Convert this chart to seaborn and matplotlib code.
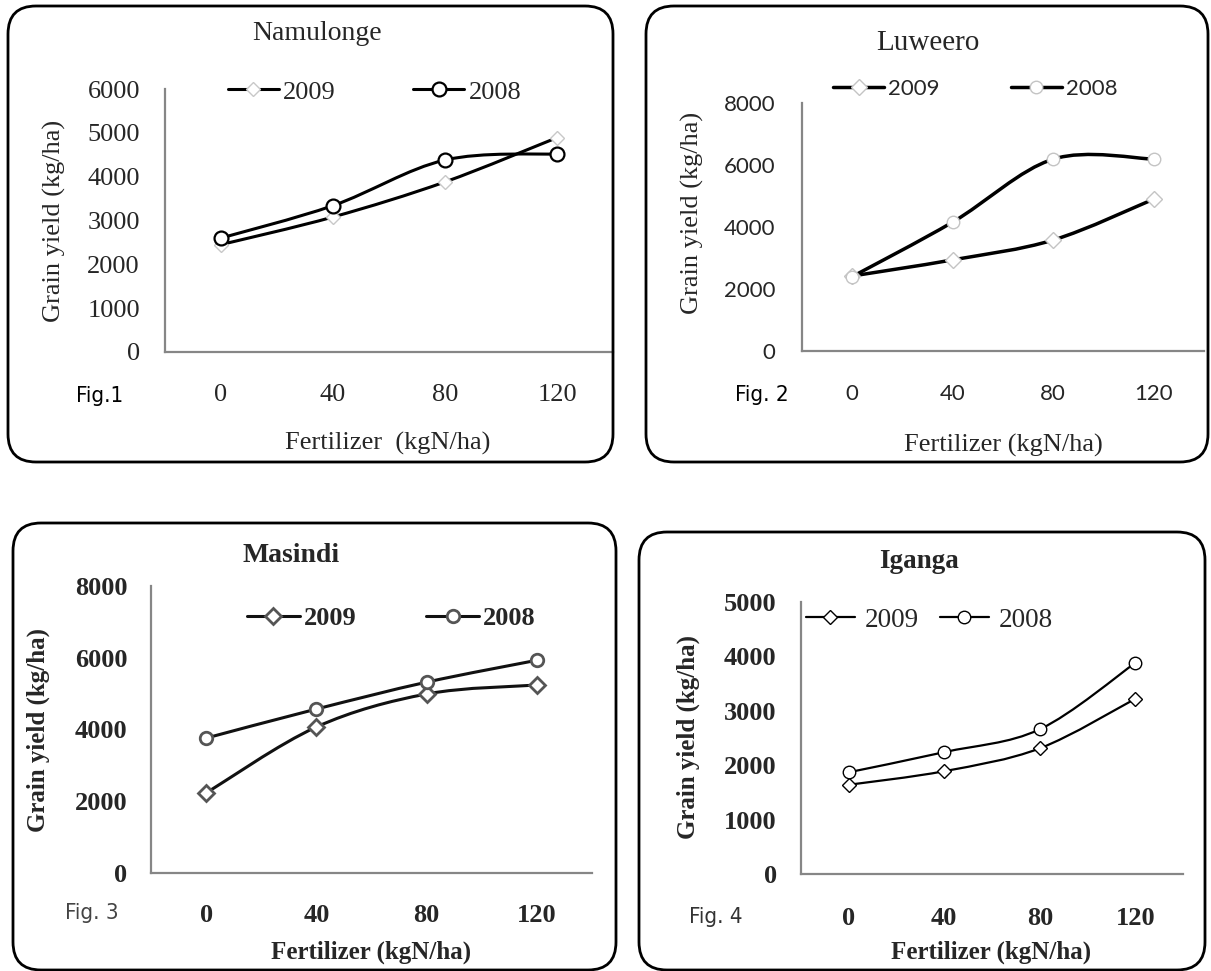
import numpy as np
import pandas as pd
import matplotlib
matplotlib.use("Agg")
import matplotlib.pyplot as plt
import seaborn as sns
from matplotlib.path import Path
from matplotlib.patches import PathPatch, FancyBboxPatch
from matplotlib.lines import Line2D

# data (grain yield, kg/ha)
doses = ["0", "40", "80", "120"]
years = ["2009", "2008"]
namulonge_2009 = [2450, 3080, 3880, 4890]
namulonge_2008 = [2600, 3340, 4380, 4520]
luweero_2009 = [2420, 2940, 3580, 4900]
luweero_2008 = [2400, 4160, 6190, 6190]
masindi_2009 = [2230, 4070, 4990, 5240]
masindi_2008 = [3760, 4570, 5320, 5930]
iganga_2009 = [1640, 1890, 2310, 3220]
iganga_2008 = [1870, 2240, 2660, 3880]

W, H = 1211, 971
SERIF = ["Liberation Serif", "DejaVu Serif"]
SANS = ["Lato", "DejaVu Sans"]
GRAY = "#868686"

sns.set_style("white")
plt.rcParams["font.family"] = SERIF
fig = plt.figure(figsize=(W / 100, H / 100), dpi=100)


def smooth_path(xs, ys):
    # Excel-like smoothed line: cubic bezier through the data points
    pts = np.column_stack([xs, ys]).astype(float)
    n = len(pts)
    verts, codes = [pts[0]], [Path.MOVETO]
    for i in range(n - 1):
        p0 = pts[i - 1] if i > 0 else pts[i]
        p1, p2 = pts[i], pts[i + 1]
        p3 = pts[i + 2] if i + 2 < n else pts[i + 1]
        verts += [p1 + (p2 - p0) / 6, p2 - (p3 - p1) / 6, p2]
        codes += [Path.CURVE4] * 3
    return Path(verts, codes)


def panel(box, rect, series, ylim, ystep, s):
    L, R, T, B = rect
    ax = fig.add_axes([L / W, 1 - B / H, (R - L) / W, (B - T) / H])
    fx = lambda px: (px - L) / (R - L)
    fy = lambda py: (B - py) / (B - T)

    # rounded frame around the panel
    x0, y0, x1, y1 = box
    fig.add_artist(FancyBboxPatch((x0 / 100, (H - y1) / 100), (x1 - x0) / 100, (y1 - y0) / 100,
                                  boxstyle="round,pad=0,rounding_size=0.28",
                                  transform=fig.dpi_scale_trans, fill=False, lw=2.0, ec="black"))

    xpos = np.arange(len(doses))
    handles = []
    for vals, year, mk in zip(series, years, ["D", "o"]):
        df = pd.DataFrame({"x": xpos, "y": vals})
        ax.add_patch(PathPatch(smooth_path(df["x"], df["y"]), fill=False, ec=s["line"],
                               lw=s["lw"], zorder=3, capstyle="round"))
        ms = s["ms"][mk]
        mew = s["mew"][year]
        sns.lineplot(data=df, x="x", y="y", ax=ax, marker=mk, linestyle="none", markersize=ms,
                     markerfacecolor="white", markeredgecolor=s["mec"][year],
                     markeredgewidth=mew, color=s["line"], zorder=4, legend=False)
        handles.append(Line2D([], [], color=s["line"], lw=s["lw"], marker=mk, markersize=ms,
                              markerfacecolor="white", markeredgecolor=s["mec"][year],
                              markeredgewidth=mew))

    ax.set_xlim(-0.5, 3.5)
    ax.set_ylim(*ylim)
    ax.set_xticks(xpos)
    ax.set_xticklabels(doses)
    ax.set_xticks(np.arange(-0.5, 4, 1), minor=True)
    ax.set_yticks(np.arange(ylim[0], ylim[1] + 1, ystep))
    ax.tick_params(axis="x", which="major", length=0, pad=s["xpad"])
    ax.tick_params(axis="x", which="minor", length=6, width=1.5, color=GRAY, direction="out")
    ax.tick_params(axis="y", length=s["ylen"], width=1.5, color=GRAY, direction="out", pad=s["ypad"])
    for lab in ax.get_xticklabels() + ax.get_yticklabels():
        lab.set_fontfamily(s["tickfam"])
        lab.set_fontsize(s["tickfs"])
        lab.set_fontweight(s["tickw"])
    for side in ["top", "right"]:
        ax.spines[side].set_visible(False)
    for side in ["left", "bottom"]:
        ax.spines[side].set_color(GRAY)
        ax.spines[side].set_linewidth(1.6)
    ax.set_xlabel(s["xlabel"], fontsize=s["labfs"], fontweight=s["labw"], va="center", ha="center")
    ax.xaxis.set_label_coords(fx(s["xlab_at"][0]), fy(s["xlab_at"][1]))
    ax.set_ylabel("Grain yield (kg/ha)", fontsize=s["labfs"], fontweight=s["labw"], va="center", ha="center")
    ax.yaxis.set_label_coords(fx(s["ylab_at"][0]), fy(s["ylab_at"][1]))
    ax.text(fx(s["title_at"][0]), fy(s["title_at"][1]), s["title"], transform=ax.transAxes,
            ha="center", va="center", fontsize=s["titlefs"], fontweight=s["titlew"])
    ax.text(fx(s["fig_at"][0]), fy(s["fig_at"][1]), s["fig"], transform=ax.transAxes,
            ha="center", va="center", fontsize=s.get("figfs", 16), fontstretch="condensed",
            color=s.get("figcolor", "black"), family=["DejaVu Sans", "Liberation Sans"])
    ax.legend(handles, years, loc="center left",
              bbox_to_anchor=(s["leg_at"][0] / W, 1 - s["leg_at"][1] / H), bbox_transform=fig.transFigure,
              ncol=2, frameon=False, borderpad=0, borderaxespad=0, numpoints=1,
              handlelength=s["hl"], handletextpad=s["htp"], columnspacing=s["cs"],
              prop={"family": s["legfam"], "size": s["legfs"], "weight": s["legw"]})
    return ax


# Fig. 1 - Namulonge
panel((8, 6, 613, 462), (165, 613, 89, 352), [namulonge_2009, namulonge_2008], (0, 6000), 1000,
      dict(line="black", lw=2.2, ms={"D": 7, "o": 10}, mec={"2009": "#c8c8c8", "2008": "black"},
           mew={"2009": 1.0, "2008": 1.6},
           xpad=23, ypad=12, ylen=6, tickfam=SERIF, tickfs=19, tickw="normal",
           xlabel="Fertilizer  (kgN/ha)", labfs=19, labw="normal", xlab_at=(388, 443), ylab_at=(54, 221),
           title="Namulonge", title_at=(317, 33), titlefs=20, titlew="normal",
           fig="Fig.1", fig_at=(100, 396),
           leg_at=(228, 92), legfam=SERIF, legfs=19, legw="normal", hl=1.93, htp=0.15, cs=2.95))

# Fig. 2 - Luweero
panel((646, 6, 1208, 462), (802, 1204, 103, 351), [luweero_2009, luweero_2008], (0, 8000), 2000,
      dict(line="black", lw=2.5, ms={"D": 8, "o": 9}, mec={"2009": "#c4c4c4", "2008": "#c4c4c4"},
           mew={"2009": 1.0, "2008": 1.0},
           xpad=24, ypad=13, ylen=6, tickfam=SANS, tickfs=16, tickw="normal",
           xlabel="Fertilizer (kgN/ha)", labfs=19, labw="normal", xlab_at=(1003, 445), ylab_at=(692, 213),
           title="Luweero", title_at=(928, 43), titlefs=21, titlew="normal",
           fig="Fig. 2", fig_at=(762, 395),
           leg_at=(833, 89), legfam=SANS, legfs=16, legw="normal", hl=2.3, htp=0.18, cs=3.2))

# Fig. 3 - Masindi
panel((13, 523, 616, 970), (151, 592, 586, 873), [masindi_2009, masindi_2008], (0, 8000), 2000,
      dict(line="#111111", lw=2.2, ms={"D": 8, "o": 9}, mec={"2009": "#555555", "2008": "#555555"},
           mew={"2009": 2.0, "2008": 2.0},
           xpad=22, ypad=12, ylen=5, tickfam=SERIF, tickfs=19, tickw="bold",
           xlabel="Fertilizer (kgN/ha)", labfs=18, labw="bold", xlab_at=(371, 952), ylab_at=(38, 730),
           title="Masindi", title_at=(291, 555), titlefs=20, titlew="bold",
           fig="Fig. 3", fig_at=(92, 913), figcolor="#444444",
           leg_at=(247, 618), legfam=SERIF, legfs=19, legw="bold", hl=2.0, htp=0.15, cs=2.65))

# Fig. 4 - Iganga
panel((639, 532, 1205, 970), (801, 1183, 602, 874), [iganga_2009, iganga_2008], (0, 5000), 1000,
      dict(line="black", lw=1.6, ms={"D": 7, "o": 9}, mec={"2009": "black", "2008": "black"},
           mew={"2009": 1.0, "2008": 1.0},
           xpad=24, ypad=11.5, ylen=6, tickfam=SERIF, tickfs=19, tickw="bold",
           xlabel="Fertilizer (kgN/ha)", labfs=18, labw="bold", xlab_at=(991, 952), ylab_at=(688, 737),
           title="Iganga", title_at=(919, 562), titlefs=19.5, titlew="bold",
           fig="Fig. 4", fig_at=(716, 917), figcolor="#333333",
           leg_at=(806, 620), legfam=SERIF, legfs=19.5, legw="normal", hl=1.8, htp=0.37, cs=0.78))

fig.savefig("out.png", dpi=100)
